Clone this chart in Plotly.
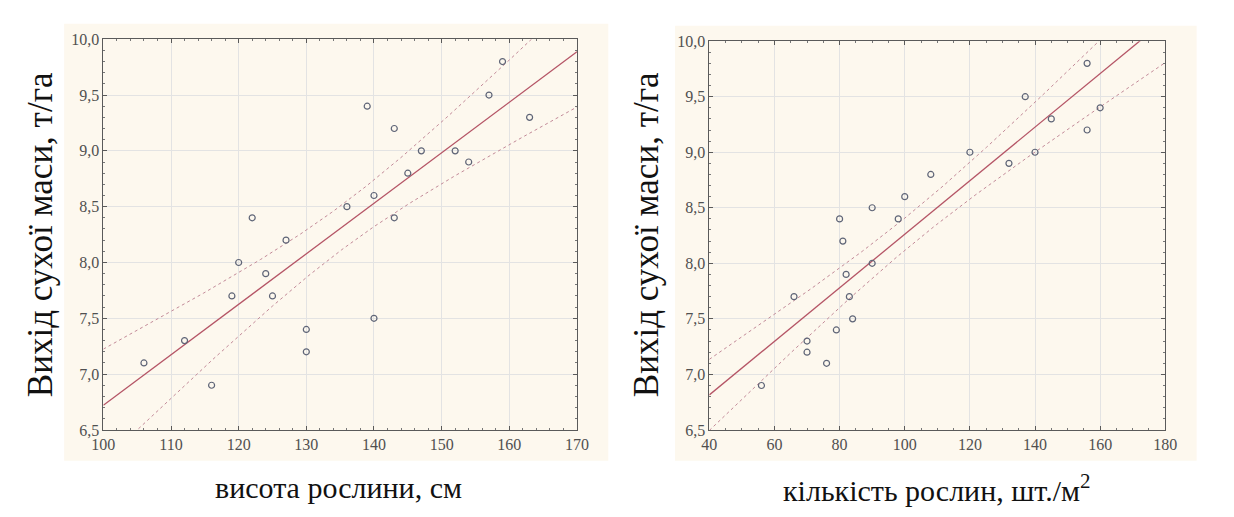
import numpy as np
import plotly.graph_objects as go

# Left panel: plant height (cm) vs dry mass yield (t/ha)
height_cm = [106, 112, 116, 119, 120, 122, 124, 125, 127, 130, 130, 136,
             139, 140, 140, 143, 143, 145, 147, 152, 154, 157, 159, 163]
yield_h = [7.1, 7.3, 6.9, 7.7, 8.0, 8.4, 7.9, 7.7, 8.2, 7.4, 7.2, 8.5,
           9.4, 8.6, 7.5, 9.2, 8.4, 8.8, 9.0, 9.0, 8.9, 9.5, 9.8, 9.3]

# Right panel: plant density (pcs/m2) vs dry mass yield (t/ha)
density = [56, 66, 70, 70, 76, 79, 80, 81, 82, 83, 84, 90,
           90, 98, 100, 108, 120, 132, 137, 140, 145, 156, 156, 160]
yield_d = [6.9, 7.7, 7.3, 7.2, 7.1, 7.4, 8.4, 8.2, 7.9, 7.7, 7.5, 8.5,
           8.0, 8.4, 8.6, 8.8, 9.0, 8.9, 9.5, 9.0, 9.3, 9.8, 9.2, 9.4]

y_title = "Вихід сухої маси, т/га"
x_title_left = "висота рослини, см"
x_title_right = "кількість рослин, шт./м<sup>2</sup>"

T_975 = 2.0739  # t-quantile, df = 22


def fit_with_ci(x, y, lo, hi):
    x = np.asarray(x, float)
    y = np.asarray(y, float)
    n = len(x)
    b, a = np.polyfit(x, y, 1)
    resid = y - (a + b * x)
    s = np.sqrt(np.sum(resid ** 2) / (n - 2))
    sxx = np.sum((x - x.mean()) ** 2)
    xs = np.linspace(lo, hi, 200)
    ys = a + b * xs
    half = T_975 * s * np.sqrt(1.0 / n + (xs - x.mean()) ** 2 / sxx)
    return xs, ys, ys - half, ys + half


fig = go.Figure()

FIT_COLOR = "#b55566"
CI_COLOR = "#c28a98"
MARK_COLOR = "#5f6577"

panels = [
    (height_cm, yield_h, 100, 170, "x", "y"),
    (density, yield_d, 40, 180, "x2", "y2"),
]
for xd, yd, lo, hi, xa, ya in panels:
    xs, ys, ylo, yhi = fit_with_ci(xd, yd, lo, hi)
    fig.add_trace(go.Scatter(x=xs, y=yhi, mode="lines", xaxis=xa, yaxis=ya,
                             line=dict(color=CI_COLOR, width=1, dash="dot"),
                             showlegend=False, hoverinfo="skip"))
    fig.add_trace(go.Scatter(x=xs, y=ylo, mode="lines", xaxis=xa, yaxis=ya,
                             line=dict(color=CI_COLOR, width=1, dash="dot"),
                             showlegend=False, hoverinfo="skip"))
    fig.add_trace(go.Scatter(x=xs, y=ys, mode="lines", xaxis=xa, yaxis=ya,
                             line=dict(color=FIT_COLOR, width=1.3),
                             showlegend=False, hoverinfo="skip"))
    fig.add_trace(go.Scatter(x=xd, y=yd, mode="markers", xaxis=xa, yaxis=ya,
                             marker=dict(symbol="circle-open", size=6,
                                         color=MARK_COLOR, line=dict(width=1.2)),
                             showlegend=False))

W, H = 1234, 517

SERIF = "Liberation Serif"
tick_font = dict(family=SERIF, size=16, color="#505050")
axis_common = dict(
    showline=True, linecolor="#5a5a5a", linewidth=1, mirror="allticks",
    ticks="inside", ticklen=4, tickcolor="#5a5a5a",
    showgrid=True, gridcolor="#e3e3e3", gridwidth=1,
    zeroline=False, tickfont=tick_font,
    minor=dict(ticks="inside", ticklen=2, tickcolor="#777777", showgrid=False),
)

fig.update_layout(
    width=W, height=H,
    margin=dict(l=0, r=0, t=0, b=0),
    paper_bgcolor="white", plot_bgcolor="white",
    separators=", ",
    font=dict(family=SERIF),
    xaxis=dict(domain=[85 / W, 568 / W], range=[100, 170], dtick=10, anchor="y",
               **axis_common),
    yaxis=dict(domain=[1 - 428 / H, 1 - 24 / H], range=[6.5, 10.0], dtick=0.5,
               tickformat=".1f", anchor="x", **axis_common),
    xaxis2=dict(domain=[703 / W, 1168 / W], range=[40, 180], dtick=20, anchor="y2",
                **axis_common),
    yaxis2=dict(domain=[1 - 428 / H, 1 - 26 / H], range=[6.5, 10.0], dtick=0.5,
                tickformat=".1f", anchor="x2", **axis_common),
    shapes=[
        dict(type="rect", xref="paper", yref="paper", layer="below",
             x0=45 / W, x1=600 / W, y0=1 - 460 / H, y1=1 - 8 / H,
             fillcolor="#fdf8ee", line=dict(width=0)),
        dict(type="rect", xref="paper", yref="paper", layer="below",
             x0=668 / W, x1=1200 / W, y0=1 - 460 / H, y1=1 - 10 / H,
             fillcolor="#fdf8ee", line=dict(width=0)),
    ],
)

ytitle_font = dict(family=SERIF, size=35, color="#111111")
xtitle_font = dict(family=SERIF, size=30, color="#111111")
fig.add_annotation(text=y_title, xref="paper", yref="paper", x=21 / W, y=1 - 226 / H,
                   textangle=-90, showarrow=False, font=ytitle_font,
                   xanchor="center", yanchor="middle")
fig.add_annotation(text=y_title, xref="paper", yref="paper", x=639 / W, y=1 - 226 / H,
                   textangle=-90, showarrow=False, font=ytitle_font,
                   xanchor="center", yanchor="middle")
fig.add_annotation(text=x_title_left, xref="paper", yref="paper", x=325 / W, y=1 - 488 / H,
                   showarrow=False, font=xtitle_font, xanchor="center", yanchor="middle")
fig.add_annotation(text=x_title_right, xref="paper", yref="paper", x=935 / W, y=1 - 488 / H,
                   showarrow=False, font=xtitle_font, xanchor="center", yanchor="middle")

fig.write_html("out.html")
